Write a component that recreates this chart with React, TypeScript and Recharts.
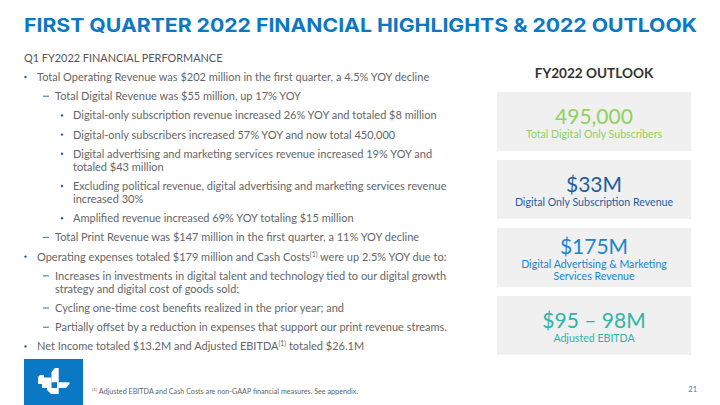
import React from "react";
import { Surface, Layer, Rectangle, Polygon } from "recharts";

const titleText = "FIRST QUARTER 2022 FINANCIAL HIGHLIGHTS & 2022 OUTLOOK";
const sectionHeader = "Q1 FY2022 FINANCIAL PERFORMANCE";
const outlookHeader = "FY2022 OUTLOOK";

// level: 1 = bullet, 2 = dash, 3 = small bullet; lines may contain "^(1)" superscript marker
const bulletLevels = [1, 2, 3, 3, 3, 3, 3, 2, 1, 2, 2, 2, 1];
const bulletLines: string[][] = [
  ["Total Operating Revenue was $202 million in the first quarter, a 4.5% YOY decline"],
  ["Total Digital Revenue was $55 million, up 17% YOY"],
  ["Digital-only subscription revenue increased 26% YOY and totaled $8 million"],
  ["Digital-only subscribers increased 57% YOY and now total 450,000"],
  ["Digital advertising and marketing services revenue increased 19% YOY and", "totaled $43 million"],
  ["Excluding political revenue, digital advertising and marketing services revenue", "increased 30%"],
  ["Amplified revenue increased 69% YOY totaling $15 million"],
  ["Total Print Revenue was $147 million in the first quarter, a 11% YOY decline"],
  ["Operating expenses totaled $179 million and Cash Costs^(1) were up 2.5% YOY due to:"],
  ["Increases in investments in digital talent and technology tied to our digital growth", "strategy and digital cost of goods sold;"],
  ["Cycling one-time cost benefits realized in the prior year; and"],
  ["Partially offset by a reduction in expenses that support our print revenue streams."],
  ["Net Income totaled $13.2M and Adjusted EBITDA^(1) totaled $26.1M"],
];

const outlookValues = ["495,000", "$33M", "$175M", "$95 \u2013 98M"];
const outlookLabels: string[][] = [
  ["Total Digital Only Subscribers"],
  ["Digital Only Subscription Revenue"],
  ["Digital Advertising & Marketing", "Services Revenue"],
  ["Adjusted EBITDA"],
];
const outlookColors = ["#8fd15c", "#1d5f9c", "#1a86cf", "#2db5a8"];

const footnote = "Adjusted EBITDA and Cash Costs are non-GAAP financial measures. See appendix.";
const pageNumber = "21";

const BODY = "Lato, 'Noto Sans', sans-serif";
const BLUE = "#0b78c6";
const BODY_SIZE = 11;

const levelDot = [0, 25.5, 43, 62];
const levelText = [0, 37, 55, 73];

function renderLine(line: string, size: number) {
  const parts = line.split("^(1)");
  if (parts.length === 1) return line;
  return [
    <tspan key="a">{parts[0]}</tspan>,
    <tspan key="s" dy={-4} fontSize={size * 0.62}>(1)</tspan>,
    <tspan key="b" dy={4}>{parts[1]}</tspan>,
  ];
}

export default function App() {
  let y = 77;
  const rows: React.ReactNode[] = [];
  bulletLines.forEach((lines, i) => {
    const lvl = bulletLevels[i];
    const yy = y;
    if (lvl === 2) {
      rows.push(
        <line key={`m${i}`} x1={levelDot[2]} x2={levelDot[2] + 6} y1={yy} y2={yy} stroke="#2b6fb3" strokeWidth={1} />
      );
    } else {
      rows.push(
        <circle key={`m${i}`} cx={levelDot[lvl]} cy={yy} r={1.2} fill="#1f5f9e" />
      );
    }
    lines.forEach((ln, j) => {
      rows.push(
        <text
          key={`t${i}-${j}`}
          x={levelText[lvl]}
          y={yy + j * 13 + 4}
          fontFamily={BODY}
          fontSize={BODY_SIZE}
          fill="#666666"
        >
          {renderLine(ln, BODY_SIZE)}
        </text>
      );
    });
    y = yy + (lines.length - 1) * 13 + 19.2;
  });

  const boxTops = [92, 160, 228, 296];
  const boxH = 59;
  const cx = 594;

  const logo = [
    [
      { x: 40, y: 375 }, { x: 44, y: 375 }, { x: 44, y: 377.5 }, { x: 51.5, y: 377.5 }, { x: 51.5, y: 388 },
      { x: 42, y: 388 }, { x: 42, y: 384 }, { x: 38, y: 384 }, { x: 38, y: 377 },
    ],
    [
      { x: 55, y: 368 }, { x: 58.7, y: 368 }, { x: 58.7, y: 382.3 }, { x: 51.5, y: 382.3 }, { x: 51.5, y: 372 },
    ],
    [
      { x: 57, y: 382.3 }, { x: 69.5, y: 382.3 }, { x: 69.5, y: 384 }, { x: 66, y: 388 }, { x: 57, y: 388 },
    ],
    [
      { x: 47, y: 388 }, { x: 58.7, y: 388 }, { x: 58.7, y: 394 }, { x: 51, y: 394 }, { x: 47, y: 390 },
    ],
  ];

  return (
    <div style={{ position: "absolute", left: 0, top: 0, width: 720, height: 405, background: "#fff" }}>
      <Surface width={720} height={405}>
        <Layer>
          <rect x={0} y={0} width={720} height={405} fill="#ffffff" />
          <text
            x={24}
            y={32}
            fontFamily="Inter, 'Open Sans', sans-serif"
            fontWeight={700}
            fontSize={18.5}
            fill={BLUE}
            textLength={673}
            lengthAdjust="spacingAndGlyphs"
          >
            {titleText}
          </text>
          <text x={24} y={61.5} fontFamily={BODY} fontSize={10.9} fill="#555">
            {sectionHeader}
          </text>
          {rows}
        </Layer>
        <Layer>
          <text x={cx} y={78} textAnchor="middle" fontFamily={BODY} fontWeight={700} fontSize={13.6} fill="#333">
            {outlookHeader}
          </text>
          {outlookValues.map((v, i) => {
            const top = boxTops[i];
            const labels = outlookLabels[i];
            const valueY = labels.length > 1 ? top + 18 : top + 24;
            return (
              <g key={v}>
                <Rectangle x={497} y={top} width={194} height={boxH} fill="#f0f0f0" />
                <text x={cx} y={valueY + 7.5} textAnchor="middle" fontFamily={BODY} fontSize={21} fill={outlookColors[i]}>
                  {v}
                </text>
                {labels.map((l, j) => (
                  <text
                    key={l}
                    x={cx}
                    y={valueY + 21.5 + j * 12.5}
                    textAnchor="middle"
                    fontFamily={BODY}
                    fontSize={10.6}
                    fill={outlookColors[i]}
                  >
                    {l}
                  </text>
                ))}
              </g>
            );
          })}
        </Layer>
        <Layer>
          <Rectangle x={24} y={359} width={59} height={46} fill={BLUE} />
          {logo.map((pts, i) => (
            <Polygon key={i} points={pts} fill="#ffffff" />
          ))}
          <text x={92} y={393.5} fontFamily={BODY} fontSize={7.2} fill="#666">
            <tspan fontSize={4.6} dy={-2.5}>(1)</tspan>
            <tspan dx={1.5} dy={2.5}>{footnote}</tspan>
          </text>
          <text x={697} y={392} textAnchor="end" fontFamily={BODY} fontSize={7.5} fill="#3f7dbb">
            {pageNumber}
          </text>
        </Layer>
      </Surface>
    </div>
  );
}
